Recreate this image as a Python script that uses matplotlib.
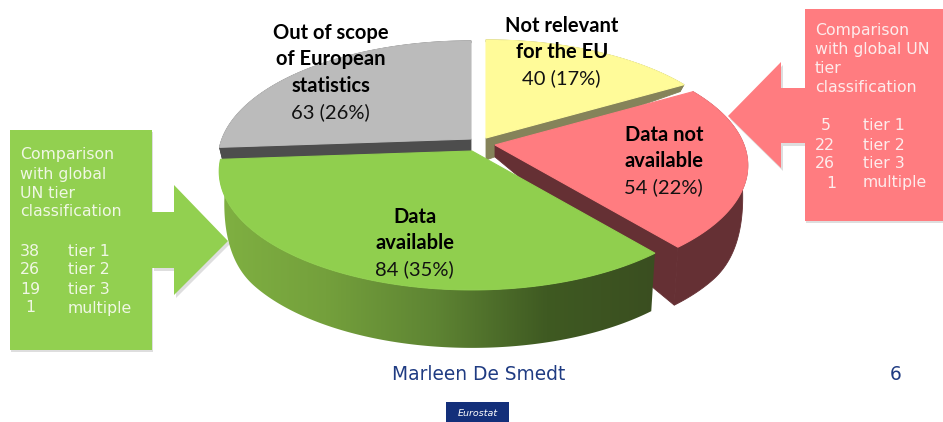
import numpy as np
import matplotlib
matplotlib.use("Agg")
import matplotlib.pyplot as plt
from matplotlib.colors import LinearSegmentedColormap
from matplotlib.patches import Polygon, Rectangle

# slices, clockwise from 12 o'clock
names = [["Not relevant", "for the EU"], ["Data not", "available"], ["Data", "available"],
         ["Out of scope", "of European", "statistics"]]
counts = [40, 54, 84, 63]
shares = ["17%", "22%", "35%", "26%"]

tier_names = ["tier 1", "tier 2", "tier 3", "multiple"]
green_tiers = [38, 26, 19, 1]
red_tiers = [5, 22, 26, 1]

# style per slice
top_colors = ["#FFFB99", "#FF7C80", "#90CF4E", "#BBBBBB"]
side_colors = ["#85835A", "#653034", "#5E8433", "#4D4D4D"]
apex = [(486, 138), (495, 145), (472, 151), (471, 139)]
apex_drop = [22, 12, 12, 12]
label_pos = [(562, 26), (664, 135), (415, 217), (331, 33)]

# 3d look of the pie
A_TOP, B_TOP = 249, 115
PERSP = 0.172


def rim(cx, cy, theta):
    # theta is clockwise from the back of the pie
    yy = np.cos(theta)
    f = 1 / (1 + PERSP * yy)
    return np.column_stack([cx + A_TOP * np.sin(theta) * f, cy - B_TOP * yy * f])


def lower_rim(cx, top, theta):
    # the wall is thin at the back and about 58 px high at the front
    yy = np.cos(theta)
    d = np.where(yy < 0, 12 + 46 * np.sin(np.minimum(1, -yy / 0.6) * np.pi / 2), 12 - 10 * yy)
    return np.column_stack([cx + (top[:, 0] - cx) * 0.98, top[:, 1] + d])


def arrow_card(ax, pts, rect, color):
    sx = [(x + 2, y + 3) for x, y in pts]
    ax.add_patch(Polygon(sx, closed=True, fc="#000000", ec="none", alpha=0.13, zorder=1))
    ax.add_patch(Polygon(pts, closed=True, fc=color, ec="none", zorder=2))
    ax.add_patch(Rectangle((rect[0] + 1, rect[1] + 2), rect[2], rect[3], fc="#000000", ec="none", alpha=0.13, zorder=1))
    ax.add_patch(Rectangle((rect[0], rect[1]), rect[2], rect[3], fc=color, ec="none", zorder=2))


fig = plt.figure(figsize=(9.43, 4.22), dpi=100)
ax = fig.add_axes([0, 0, 1, 1])
ax.axis("off")

fracs = np.array(counts) / sum(counts)
edges = np.concatenate([[0], np.cumsum(fracs)]) * 2 * np.pi
cut_edges = [edges[1], edges[2], None, edges[3]]

# back to front
order = [3, 0, 1, 2]
for i in order:
    t = np.linspace(edges[i], edges[i + 1], 200)
    cx, cy = apex[i]
    top = rim(cx, cy, t)
    bot = lower_rim(cx, top, t)

    z = 10 + order.index(i) * 3
    # outer wall
    wall = Polygon(np.vstack([top, bot[::-1]]), closed=True, fc=side_colors[i], ec=side_colors[i], lw=0.6, zorder=z)
    ax.add_patch(wall)
    if i == 2:
        wall.set_facecolor("none")
        wall.set_edgecolor("none")
        cmap = LinearSegmentedColormap.from_list("g", ["#80B142", "#74A03C", "#5E8433", "#3F5A22", "#3A4E20"])
        img = ax.imshow(np.linspace(0, 1, 256).reshape(1, -1), cmap=cmap, aspect="auto",
                        extent=(215, 657, 360, 150), zorder=z)
        img.set_clip_path(wall)

    # flat cut face that looks towards us
    if cut_edges[i] is not None:
        ct = np.array([cut_edges[i]])
        a = rim(cx, cy, ct)
        b = lower_rim(cx, a, ct)
        ax.add_patch(Polygon([(cx, cy), a[0], b[0], (cx, cy + apex_drop[i])], closed=True,
                             fc=side_colors[i], ec=side_colors[i], lw=0.6, zorder=z + 1))

    ax.add_patch(Polygon(np.vstack([[(cx, cy)], top]), closed=True, fc=top_colors[i], ec=top_colors[i], lw=0.8, zorder=z + 2))

    lx, ly = label_pos[i]
    for j, line in enumerate(names[i]):
        ax.text(lx, ly + j * 26.3, line, family="Lato", fontweight="bold", fontsize=14.5, color="black",
                ha="center", va="center", zorder=30)
    ax.text(lx - 1, ly + len(names[i]) * 26.3, f"{counts[i]} ({shares[i]})", family="Lato", fontsize=14.5,
            color="#111111", ha="center", va="center", zorder=30)

# callouts
arrow_card(ax, [(152, 212), (174, 212), (174, 185), (228, 241), (174, 295), (174, 268), (152, 268)],
           (10, 130, 142, 220), "#92D050")
arrow_card(ax, [(806, 88), (781, 88), (781, 62), (728, 116), (781, 168), (781, 143), (806, 143)],
           (805, 9, 138, 212), "#FF7C80")

card_font = dict(family="DejaVu Sans", fontsize=11.3, color="#F0F7E4", va="center", zorder=5)
for k, line in enumerate(["Comparison", "with global", "UN tier", "classification"]):
    ax.text(20, 155 + k * 19, line, **card_font)
for k, (n, tn) in enumerate(zip(green_tiers, tier_names)):
    ax.text(20 if n > 9 else 25, 251 + k * 19, str(n), **card_font)
    ax.text(68, 251 + k * 19, tn, **card_font)

card_font["color"] = "#FDECEC"
for k, line in enumerate(["Comparison", "with global UN", "tier", "classification"]):
    ax.text(815, 30 + k * 19.2, line, **card_font)
red_x = {5: 821, 22: 815, 26: 815, 1: 826}
for k, (n, tn) in enumerate(zip(red_tiers, tier_names)):
    ax.text(red_x[n], 126 + k * 19, str(n), **card_font)
    ax.text(863, 126 + k * 19, tn, **card_font)

# footer
ax.text(478.5, 375, "Marleen De Smedt", family="DejaVu Sans", fontsize=13.4, color="#1F3B82", ha="center", va="center")
ax.text(896, 375, "6", family="DejaVu Sans", fontsize=13.4, color="#1F3B82", ha="center", va="center")
ax.add_patch(Rectangle((446, 402), 63, 22, fc="#132F7A", ec="none"))
ax.text(477.5, 413, "Eurostat", family="DejaVu Sans", style="italic", fontsize=6.8, color="white", ha="center", va="center")

ax.set_xlim(0, 943)
ax.set_ylim(422, 0)
fig.savefig("out.png", dpi=100)
